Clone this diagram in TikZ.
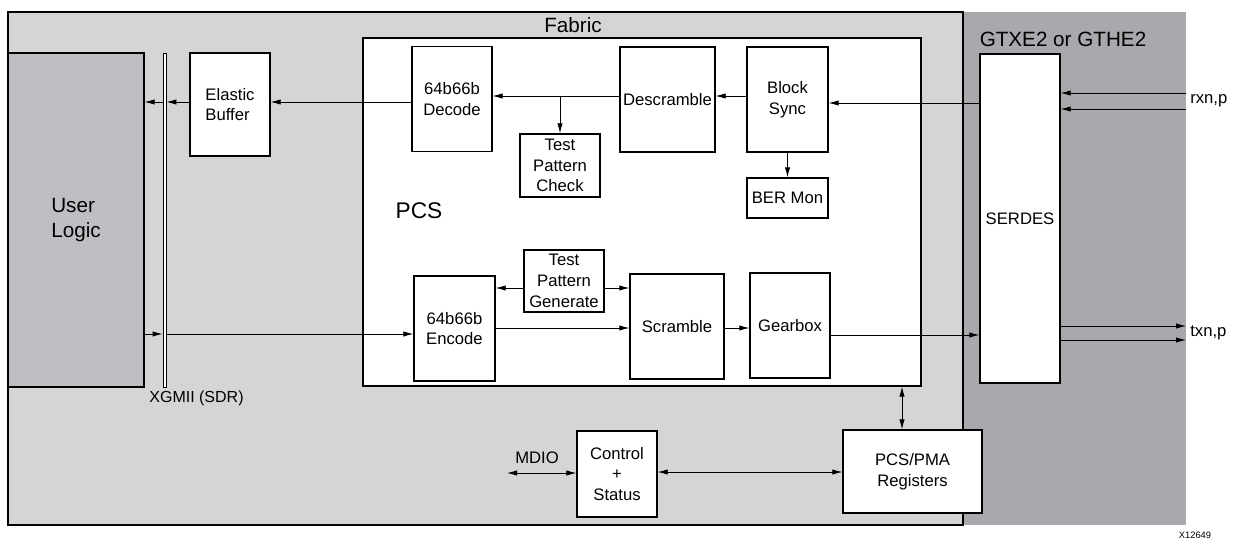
\documentclass[tikz,border=0pt]{standalone}
\usepackage{fontspec}
\setmainfont{Liberation Sans}
\usetikzlibrary{arrows.meta}

\definecolor{fabgray}{RGB}{212,213,215}
\definecolor{gtgray}{RGB}{168,169,172}
\definecolor{usergray}{RGB}{190,191,194}

\tikzset{
  blk/.style={draw, line width=1pt, fill=white, align=center, inner sep=0pt,
    minimum width=60pt, minimum height=78.75pt, font=\fontsize{12.5}{15.5}\selectfont},
  lbl/.style={inner sep=0pt, font=\fontsize{12.5}{15}\selectfont},
  sig/.style={line width=0.6pt, -{Latex[length=7.5pt,width=4pt]}},
  bisig/.style={line width=0.6pt, {Latex[length=7.5pt,width=4pt]}-{Latex[length=7.5pt,width=4pt]}},
}

\begin{document}
\begin{tikzpicture}[x=0.75pt,y=0.75pt,yscale=-1,xscale=1]
\useasboundingbox (0,0) rectangle (1237,539);

%Shape: Rectangle [GT area]
\fill [gtgray] (963,12) rectangle (1186,525);
%Shape: Rectangle [Fabric]
\draw [line width=1pt, fill=fabgray] (8,12) rectangle (963,525);
%Shape: Rectangle [PCS]
\node [draw, line width=1pt, fill=white, inner sep=0pt, minimum width=418.5pt, minimum height=261pt] (pcs) at (642,212) {};

%Shape: Rectangle [user side]
\node [blk, minimum width=102pt, minimum height=250.5pt, fill=usergray, align=left, font=\fontsize{15.5}{19}\selectfont] (ul) at (76,220) {User\\Logic};
\node [draw, line width=0.6pt, fill=white, inner sep=0pt, minimum width=2.25pt, minimum height=250.5pt] (bar) at (164.5,220) {};
\node [blk, minimum height=77.25pt, align=left] (eb) at (230,104.5) {Elastic\\Buffer};

%Shape: Rectangle [receive path]
\node [blk] (dec) at (452,99) {64b66b\\Decode};
\node [blk, minimum width=71.25pt] (desc) at (667.5,99.5) {Descramble};
\node [blk, minimum width=60.75pt] (bs) at (787.5,99.5) {Block\\Sync};
\node [blk, minimum height=47.25pt] (tpc) at (560,165.5) {Test\\Pattern\\Check};
\node [blk, minimum width=60.75pt, minimum height=30pt] (ber) at (787.5,198) {BER Mon};

%Shape: Rectangle [transmit path]
\node [blk, minimum height=46.5pt] (tpg) at (564,281) {Test\\Pattern\\Generate};
\node [blk, minimum width=60.75pt] (enc) at (454.5,328.5) {64b66b\\Encode};
\node [blk, minimum width=70.5pt] (scr) at (677,326.5) {Scramble};
\node [blk] (gb) at (790,325.5) {Gearbox};

%Shape: Rectangle [transceiver and registers]
\node [blk, minimum height=246.75pt] (serdes) at (1020,218.5) {SERDES};
\node [blk, minimum height=64.5pt] (cs) at (617,474) {Control\\+\\Status};
\node [blk, minimum width=104.25pt, minimum height=62.25pt] (reg) at (912.5,471.5) {PCS/PMA\\Registers};

% Text Node
\node [lbl, font=\fontsize{15.5}{18}\selectfont] (fab) at (573,25) {Fabric};
\node [lbl, font=\fontsize{15.5}{18}\selectfont] (gt) at (1063,39) {GTXE2 or GTHE2};
\node [lbl, font=\fontsize{17}{20}\selectfont] (pcslbl) at (419,211) {PCS};
\node [lbl, font=\fontsize{12}{14}\selectfont] (xg) at (196.5,398) {XGMII (SDR)};
\node [lbl, anchor=west] (rx) at (1190,101) {rxn,p};
\node [lbl, anchor=west] (tx) at (1190,333) {txn,p};
\node [lbl] (mdio) at (537,458) {MDIO};
\node [lbl, font=\fontsize{7}{8}\selectfont] (id) at (1195,535) {X12649};

\coordinate (rxa) at (1186,93);
\coordinate (rxb) at (1186,109);
\coordinate (txa) at (1186,326);
\coordinate (txb) at (1186,340);
\coordinate (md) at (507,473);

%Straight Lines [receive]
\draw [sig] (rxa) -- (serdes.east |- rxa);
\draw [sig] (rxb) -- (serdes.east |- rxb);
\draw [sig] (serdes.west |- 0,103) -- (bs.east |- 0,103);
\draw [sig] (bs.west |- 0,96) -- (desc.east |- 0,96);
\draw [sig] (desc.west |- 0,96) -- (dec.east |- 0,96);
\draw [sig] (tpc.north |- 0,96) -- (tpc.north);
\draw [sig] (bs.south) -- (ber.north);
\draw [sig] (dec.west |- 0,102) -- (eb.east |- 0,102);
\draw [sig] (eb.west |- 0,102) -- (bar.east |- 0,102);
\draw [sig] (bar.west |- 0,102) -- (ul.east |- 0,102);

%Straight Lines [transmit]
\draw [sig] (ul.east |- 0,334) -- (bar.west |- 0,334);
\draw [sig] (bar.east |- 0,334) -- (enc.west |- 0,334);
\draw [sig] (tpg.west |- 0,288) -- (enc.east |- 0,288);
\draw [sig] (tpg.east |- 0,288) -- (scr.west |- 0,288);
\draw [sig] (enc.east |- 0,328) -- (scr.west |- 0,328);
\draw [sig] (scr.east |- 0,328) -- (gb.west |- 0,328);
\draw [sig] (gb.east |- 0,335) -- (serdes.west |- 0,335);
\draw [sig] (serdes.east |- txa) -- (txa);
\draw [sig] (serdes.east |- txb) -- (txb);

%Straight Lines [management]
\draw [bisig] (pcs.south -| 902,0) -- (reg.north -| 902,0);
\draw [bisig] (md) -- (cs.west |- md);
\draw [bisig] (cs.east |- 0,472) -- (reg.west |- 0,472);

\end{tikzpicture}
\end{document}
